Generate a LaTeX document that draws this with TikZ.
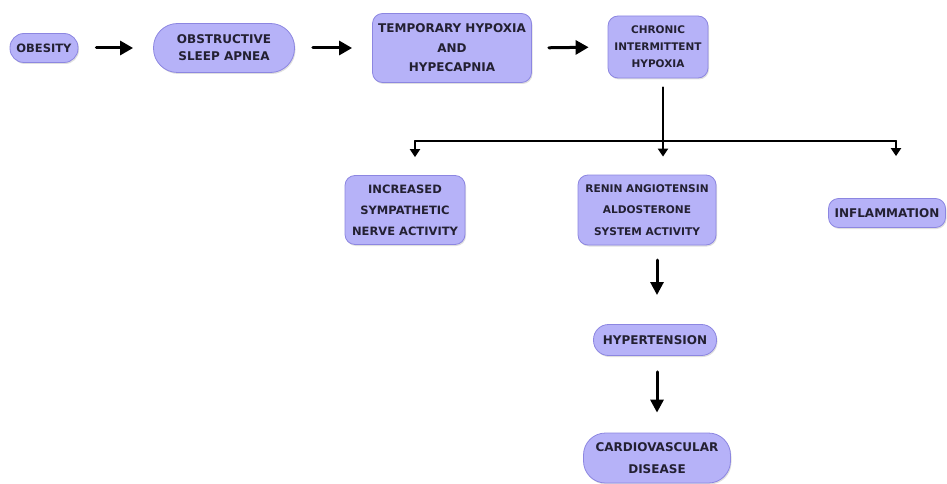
\documentclass[tikz,border=0pt]{standalone}
\usepackage{fontspec}
\setmainfont{DejaVu Sans}
\usetikzlibrary{arrows.meta,shadows}

\begin{document}
\begin{tikzpicture}
	[x=1pt,y=-1pt,line cap=round,
	%Styles
	box/.style={draw=boxline,fill=boxfill,rounded corners=#1,align=center,
		text=boxtext,inner sep=0pt,line width=0.8pt,
		font=\fontsize{12}{17}\selectfont\bfseries,
		drop shadow={shadow xshift=1pt,shadow yshift=-1.5pt,opacity=0.25}},
	box/.default=10pt,
	step arrow/.style={line width=3pt,-{Triangle[length=13pt,width=14pt]},shorten <=18pt,shorten >=20pt},
	down arrow/.style={line width=3pt,-{Triangle[length=13pt,width=13pt]}},
	branch/.style={line width=2pt},
	branch arrow/.style={line width=2pt,-{Triangle[length=8pt,width=10pt]},shorten >=18pt}
	]
	
	%Colors
	\definecolor{boxfill}{RGB}{182,178,248}
	\definecolor{boxline}{RGB}{140,134,225}
	\definecolor{boxtext}{RGB}{35,32,50}
	
	\useasboundingbox (0,0) rectangle (947,484);
	
	%Top row
	\node[box=14pt,minimum width=68pt,minimum height=29pt,font=\fontsize{11.5}{17}\selectfont\bfseries] (obesity) at (44,48) {OBESITY};
	\node[box=24pt,minimum width=141pt,minimum height=49pt] (osa) at (224,48) {OBSTRUCTIVE\\SLEEP APNEA};
	\node[box,minimum width=159pt,minimum height=69pt,font=\fontsize{12}{19.5}\selectfont\bfseries] (hypoxia) at (452,48) {TEMPORARY HYPOXIA\\AND\\HYPECAPNIA};
	\node[box,minimum width=100pt,minimum height=62pt,font=\fontsize{10.5}{17}\selectfont\bfseries] (chronic) at (658,47) {CHRONIC\\INTERMITTENT\\HYPOXIA};
	
	\draw[step arrow] (obesity.east) -- (osa.west);
	\draw[step arrow] (osa.east) -- (hypoxia.west);
	\draw[step arrow,shorten <=17pt,shorten >=19pt] (hypoxia.east) -- (chronic.west);
	
	%Effects
	\node[box,minimum width=120pt,minimum height=69pt,font=\fontsize{11.5}{21}\selectfont\bfseries] (nerve) at (405,210) {INCREASED\\SYMPATHETIC\\NERVE ACTIVITY};
	\node[box,minimum width=138pt,minimum height=70pt,font=\fontsize{10.6}{21.5}\selectfont\bfseries] (renin) at (647,210) {RENIN ANGIOTENSIN\\ALDOSTERONE\\SYSTEM ACTIVITY};
	\node[box,minimum width=117pt,minimum height=29pt] (inflam) at (887,213) {INFLAMMATION};
	
	\coordinate (split) at (663,141);
	\coordinate (left) at (415,141);
	\coordinate (right) at (896,141);
	
	\draw[branch] (split |- chronic.south) ++(0,9) -- (split);
	\draw[branch] (left) -- (right);
	\draw[branch arrow] (left) -- (left |- nerve.north);
	\draw[branch arrow] (split) -- (split |- renin.north);
	\draw[branch arrow,shorten >=42pt] (right) -- (right |- inflam.north);
	
	%Outcome
	\node[box=15pt,minimum width=123pt,minimum height=31pt] (hyper) at (655,340) {HYPERTENSION};
	\node[box=22pt,minimum width=147pt,minimum height=50pt,font=\fontsize{12}{22}\selectfont\bfseries] (cvd) at (657,458) {CARDIOVASCULAR\\DISEASE};
	
	\draw[down arrow,shorten <=15pt,shorten >=30pt] (657,245) -- (657,325);
	\draw[down arrow,shorten <=16pt,shorten >=20pt] (cvd |- hyper.south) -- (cvd.north);
\end{tikzpicture}
\end{document}
